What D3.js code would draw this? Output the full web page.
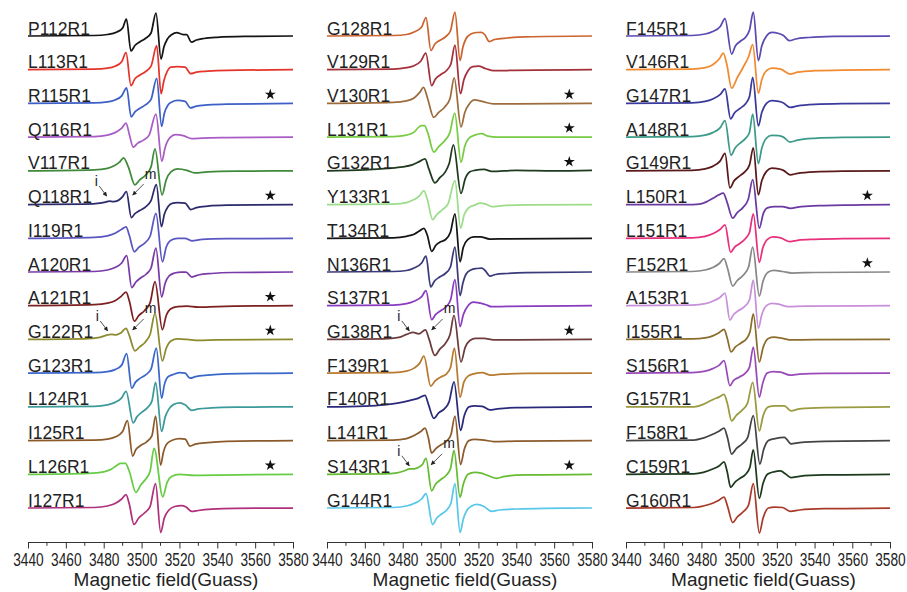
<!DOCTYPE html>
<html>
<head>
<meta charset="utf-8">
<script src="https://cdn.jsdelivr.net/npm/d3@7"></script>
<style>
  body { margin: 0; background: #fff; }
  svg { display: block; font-family: "Liberation Sans", Arial, sans-serif; }
</style>
</head>
<body>
<div id="chart-area"></div>
<script>
// EPR spectra, three stacked panels

var tickValues = [3440, 3460, 3480, 3500, 3520, 3540, 3560, 3580];
var minorTicks = [3450, 3470, 3490, 3510, 3530, 3550, 3570];
var axisTitle = 'Magnetic field(Guass)';

var labels1 = ['P112R1','L113R1','R115R1','Q116R1','V117R1','Q118R1','I119R1','A120R1',
  'A121R1','G122R1','G123R1','L124R1','I125R1','L126R1','I127R1'];
var labels2 = ['G128R1','V129R1','V130R1','L131R1','G132R1','Y133R1','T134R1','N136R1',
  'S137R1','G138R1','F139R1','F140R1','L141R1','S143R1','G144R1'];
var labels3 = ['F145R1','V146R1','G147R1','A148R1','G149R1','L150R1','L151R1','F152R1',
  'A153R1','I155R1','S156R1','G157R1','F158R1','C159R1','G160R1'];

// [field (G), signal] pairs
var spectra1 = [
  [[3440,0],[3475,0.5],[3482,1.5],[3487,4],[3490,8],[3492,17],[3494.4,-15],[3496.5,-9.5],[3499,-6],[3502,-2.5],[3505,3],[3507.6,23],[3510.3,-23],[3511.8,-11],[3513.5,-3.5],[3516,1.5],[3518.5,3.5],[3522,1.5],[3523.8,1.5],[3526.3,-6],[3529,-4],[3533,-2.5],[3540,-1.3],[3555,-0.4],[3580,0]],
  [[3440,0],[3475,0.5],[3482,1.5],[3486,3.5],[3489.5,8],[3491.8,17],[3494.4,-16],[3496.5,-9],[3499,-5.5],[3502,-2],[3505,3.5],[3508,24],[3510.3,-24],[3511.8,-11],[3513.5,-2],[3515.5,2.5],[3519,3],[3523,2.5],[3526,-4],[3529,-2.5],[3535,-1.5],[3545,-0.7],[3580,0]],
  [[3440,0],[3475,0.5],[3482,1.5],[3486,3.5],[3489.5,7.5],[3492.1,15.5],[3494.5,-13.5],[3496.5,-8.5],[3499,-5],[3502,-1.5],[3505,4],[3508,25],[3510.6,-23],[3512,-10],[3514,-1.5],[3516,1.5],[3519,3],[3523,2],[3525.8,-4.5],[3528.5,-3],[3535,-1.5],[3545,-0.6],[3580,0]],
  [[3440,0],[3475,0.5],[3482,2],[3486,4.5],[3489.5,9],[3491.8,14],[3493.5,3],[3495.6,-10],[3498,-6],[3501,-3],[3504,2],[3507.6,23],[3510.7,-24],[3512.5,-10],[3515,-0.5],[3518,2.5],[3522,1.5],[3526.5,-1.5],[3532,-1],[3545,-0.5],[3580,0]],
  [[3440,0],[3475,1],[3482,2.5],[3486,5.5],[3488.5,9],[3490.5,13],[3493,4],[3496.5,-14],[3499,-9],[3502,-4.5],[3505,4],[3507.1,22],[3510.8,-24],[3513,-9],[3515.5,-1],[3519,2],[3524,0.5],[3528,-2],[3535,-1],[3550,-0.3],[3580,0]],
  [[3440,0],[3470,0.5],[3478,1.5],[3481,2.5],[3483,3.5],[3485,3],[3487.5,4],[3490,8],[3492,13],[3494.6,-13],[3496.5,-9],[3499,-6],[3502,-2.5],[3505,4],[3507.8,20],[3510.5,-22],[3512,-10],[3514,-2],[3516.5,1.5],[3519,2],[3523,1.5],[3526,-5],[3529,-3],[3535,-1.5],[3545,-0.6],[3580,0]],
  [[3440,0],[3475,1],[3482,2.5],[3486,5],[3489.5,9],[3491.8,11.5],[3493.5,3],[3496.2,-13.5],[3498.5,-9],[3501.5,-5],[3504.5,2],[3507.6,25],[3511,-23.5],[3513,-9],[3515.5,-2],[3519,0],[3523,0],[3526.5,-2.5],[3532,-1],[3545,-0.4],[3580,0]],
  [[3440,0],[3475,0.5],[3482,2],[3486,4.5],[3489.5,9],[3492.1,16.5],[3494.8,-15.5],[3497,-10],[3499.5,-6],[3502.5,-2],[3505,4],[3507.6,24],[3510.6,-25],[3512.5,-11],[3514.5,-4],[3517.5,-1],[3521,0],[3523.5,0],[3526.5,-5],[3530,-3],[3537,-1.5],[3548,-0.5],[3580,0]],
  [[3440,0],[3475,1],[3482,2.5],[3486,5],[3489,9],[3491.8,13.5],[3493.5,5],[3496.2,-15.5],[3498.5,-10],[3501.5,-5],[3504.5,3],[3507.1,24],[3511,-24],[3513,-10],[3515.5,-3],[3519,-1],[3524,-0.5],[3530,-1.5],[3540,-0.8],[3580,0]],
  [[3440,0],[3470,0.5],[3478,2],[3482,4.5],[3484,5],[3486.5,4.5],[3489,6.5],[3491.8,11],[3493.5,4],[3496.5,-11.5],[3499,-7.5],[3502,-2.5],[3504.5,5],[3507.1,26],[3511,-21.5],[3513,-9],[3515.5,-1.5],[3519,0.5],[3524,0],[3530,-1],[3540,-0.5],[3580,0]],
  [[3440,0],[3475,0.5],[3482,1.5],[3486,3.5],[3489.5,8],[3492.1,19.5],[3494.8,-15],[3496.8,-9],[3499,-5.5],[3502,-2],[3505,4],[3507.8,25],[3510.6,-25],[3512,-12],[3513.8,-4],[3516.5,-1.5],[3520,0.5],[3523,0],[3525.6,-5],[3528.5,-3.5],[3535,-2],[3545,-0.8],[3580,0]],
  [[3440,0],[3475,0.5],[3482,2],[3486,4.5],[3489.5,9],[3491.8,15.5],[3495.6,-16],[3497.5,-10],[3500,-5.5],[3503,-1],[3505.5,6],[3507.4,24.5],[3510.6,-24.5],[3512.5,-10],[3514.5,-2],[3517,2.5],[3520.3,4],[3523,2],[3526.5,-3.5],[3530,-2],[3537,-1],[3550,-0.3],[3580,0]],
  [[3440,0],[3475,0.5],[3482,1.5],[3486,3.5],[3490,9],[3492.5,20],[3495.3,-15.5],[3497,-9],[3499.5,-5],[3502.5,-1.5],[3505.5,5],[3507.4,24.5],[3510.1,-24.5],[3511.5,-12],[3513.5,-3],[3516.5,0.5],[3520,2],[3523,1.5],[3525.6,-5.5],[3528.5,-3.5],[3535,-2],[3545,-0.8],[3580,0]],
  [[3440,0],[3472,1],[3480,2.5],[3484,5],[3487,9],[3489,11],[3491.5,11],[3493.5,3],[3497,-18],[3499.5,-11],[3502.5,-4],[3504.5,3],[3506.6,26],[3511.2,-22.5],[3513.5,-8],[3516,-2],[3520,0],[3528,-1],[3540,-0.8],[3580,0]],
  [[3440,0],[3475,0.5],[3482,2],[3486,4.5],[3489.5,9],[3491.8,13.5],[3493.5,4],[3496,-16.5],[3498.5,-10],[3501.5,-5],[3504.5,1.5],[3507.4,24.5],[3510.1,-24.5],[3512,-10],[3514.5,-2],[3517.5,1.5],[3521,2.3],[3523.5,1],[3526.5,-3.5],[3530,-2.5],[3537,-1.2],[3550,-0.3],[3580,0]]
];

var spectra2 = [
  [[3440,0],[3475,0.5],[3482,1.5],[3486,4],[3490,9],[3492.3,18.5],[3494.9,-14.5],[3497,-8],[3499.5,-4.5],[3502.5,-1],[3505.2,5],[3507.6,24],[3510.3,-24.5],[3511.8,-11],[3513.5,-2.5],[3516,2],[3519,3.5],[3521.7,3.7],[3523.5,1],[3525.7,-5.5],[3528.5,-3.5],[3535,-2],[3545,-0.8],[3580,0]],
  [[3440,0],[3475,0.5],[3482,2],[3486,4],[3489.5,8.5],[3492.2,16.5],[3495.3,-16],[3497.2,-9.5],[3500,-5],[3503,-1],[3505.5,6],[3507.6,24.5],[3510.5,-24],[3512.3,-10],[3514.5,-1],[3517,3],[3520,3.5],[3524,1],[3528,-1],[3535,-0.8],[3550,-0.3],[3580,0]],
  [[3440,0],[3475,1],[3482,2.5],[3486,5.5],[3489,11],[3491,16],[3493,6],[3496.4,-14],[3499,-9],[3502,-4],[3505,5],[3507.2,25.5],[3510.8,-23.5],[3512.8,-9],[3515,-1],[3518,3.5],[3522,2],[3528,-0.5],[3540,-0.5],[3580,0]],
  [[3440,0],[3475,0.5],[3482,2],[3486,5],[3488.5,10],[3490,11.5],[3491.5,11.5],[3493.3,4],[3496.4,-15],[3499,-9.5],[3502,-4],[3504.8,4],[3507.5,24],[3510.8,-25],[3512.8,-9],[3515,-1],[3518,2],[3521.7,3.5],[3525,1],[3530,0],[3580,0]],
  [[3440,0],[3460,1],[3472,2.5],[3480,4],[3485,6],[3489,9.5],[3491.8,12],[3493.8,2],[3497,-12],[3499.5,-7],[3502.5,-1],[3504.5,7],[3506.8,26],[3510.8,-22.5],[3513,-8],[3515.5,-1],[3518,0.5],[3523,1.5],[3527,-0.5],[3540,0.5],[3560,0],[3580,0.5]],
  [[3440,0],[3475,0.5],[3482,2],[3486,5],[3489,9],[3491.2,14],[3493,5],[3495.8,-15],[3498,-10],[3501,-5],[3504,1],[3507.6,24],[3510.6,-23.5],[3512.5,-10],[3515,-3],[3518,-0.5],[3521,1.5],[3524,0.5],[3527,-2],[3533,-1],[3545,-0.3],[3580,0]],
  [[3440,0],[3475,0.5],[3482,2],[3486,4],[3489,7.5],[3491.2,10],[3493,3],[3495.3,-13],[3497.5,-7],[3500,-3.5],[3502.5,-1.5],[3505.2,6],[3507.6,24.5],[3510.3,-23.5],[3512,-9],[3514.5,-1],[3517.5,1.5],[3521,1.5],[3526,-0.8],[3535,-0.5],[3580,0]],
  [[3440,0],[3475,0.5],[3482,1.5],[3486,4],[3490,9],[3492.3,16],[3494.8,-15],[3496.8,-9],[3499.5,-5],[3502.5,-1.5],[3505.2,5],[3507.6,25],[3510.3,-23.5],[3511.8,-11],[3513.5,-2],[3516,2],[3519,3.5],[3521.7,4],[3523.5,1.5],[3526.1,-4],[3529,-2.5],[3535,-1.5],[3545,-0.6],[3580,0]],
  [[3440,0],[3475,0.5],[3482,2],[3486,4.5],[3490,9],[3492.3,15],[3495.3,-14],[3497.3,-9],[3500,-5],[3503,-1],[3505.3,6],[3507.6,26],[3510.3,-21],[3512,-9],[3514.5,0],[3517.3,3.7],[3521,2.5],[3524,1],[3527,-1],[3535,-0.7],[3550,-0.3],[3580,0]],
  [[3440,0],[3470,0.5],[3478,2],[3482,5],[3485.5,7],[3488.5,5.5],[3492,9.5],[3493.8,1],[3497,-16],[3499.5,-10],[3502.5,-4],[3505,5],[3507.1,24],[3510.8,-22.5],[3513,-8],[3515.5,-1],[3518.5,1],[3523,1],[3528,-0.5],[3540,-0.5],[3580,0]],
  [[3440,0],[3475,0.5],[3482,2],[3486,5],[3489,10],[3491.2,17],[3494.8,-13],[3497,-8],[3500,-4],[3503,-1],[3505.3,6],[3507.3,25],[3510.3,-24],[3512.3,-9],[3514.5,-3],[3518,-0.5],[3522,0.5],[3526.5,-2],[3532,-1],[3545,-0.3],[3580,0]],
  [[3440,0],[3460,0.8],[3470,2],[3478,4],[3484,6.5],[3488,8.5],[3491.8,11.5],[3493.5,3],[3496.5,-11.5],[3499,-6],[3502,-2],[3504.5,5],[3507.1,25],[3510.6,-23.5],[3512.5,-9],[3515,0],[3518,1],[3522,0.5],[3526,-3],[3530,-2],[3540,-0.8],[3580,0]],
  [[3440,0],[3475,0.5],[3482,2],[3486,5],[3489.5,9],[3491.8,12.5],[3493.5,3],[3495.3,-12.5],[3497.5,-8],[3500.5,-4],[3503.5,0],[3505.5,6],[3507.6,24.5],[3510.6,-24],[3512.5,-9],[3515,0],[3518,1.2],[3523,0.5],[3528,-1],[3540,-0.5],[3580,0]],
  [[3440,0],[3470,0.5],[3477,1.5],[3481,3.5],[3483.5,5.5],[3486,5.5],[3488.5,7],[3490.5,10],[3492.3,16],[3495.3,-16.5],[3497.3,-10],[3500,-5.5],[3503,-1],[3505.3,6],[3507.1,24],[3510.3,-23],[3512,-10],[3514.5,0],[3518,2],[3522,1],[3526,-2],[3529.6,-4],[3534,-2],[3545,-0.7],[3580,0]],
  [[3440,0],[3475,0.5],[3482,2],[3486,4.5],[3490,9],[3492.3,14.5],[3495.8,-16.5],[3498,-10],[3500.5,-6],[3503.5,-1.5],[3505.5,5],[3507.6,24.5],[3510.3,-24.5],[3512,-11],[3514,-2],[3516.5,2],[3519,3.6],[3523,1.5],[3527,-3.5],[3531,-2],[3540,-1],[3555,-0.3],[3580,0]]
];

var spectra3 = [
  [[3440,0],[3475,0.5],[3482,2],[3486,4.5],[3490,9.5],[3492.5,17.5],[3496,-18],[3498,-10],[3500.5,-5.5],[3503.5,-1],[3505.5,6],[3507.5,24],[3510.2,-24.5],[3512,-10],[3514.5,0],[3517.3,3.7],[3521,2.5],[3523.5,0.5],[3526.6,-4.7],[3530,-3],[3537,-1.5],[3550,-0.4],[3580,0]],
  [[3440,0],[3475,0.5],[3482,2],[3486,5],[3489.5,11],[3491.6,16.5],[3493.5,5],[3496,-18.5],[3499,-8],[3502,2],[3505,13],[3507.2,25],[3510.2,-23.5],[3512,-10],[3514.5,-1],[3517.5,1.5],[3522,0.5],[3527,-4.3],[3531,-2.5],[3540,-1],[3555,-0.3],[3580,0]],
  [[3440,0],[3475,0.5],[3482,2],[3486,4.5],[3490,9],[3492.5,14.5],[3495.5,-15.5],[3497.5,-9.5],[3500.5,-5],[3503.5,0],[3505.5,7],[3507.2,26],[3510.2,-22.5],[3512,-9],[3514.5,0],[3517.3,2.7],[3521,2],[3523.5,0.5],[3527,-4],[3531,-2.5],[3540,-1],[3555,-0.3],[3580,0]],
  [[3440,0],[3475,0.5],[3482,2],[3486,4.5],[3490,9.5],[3492.5,16.5],[3495.7,-18],[3497.8,-11],[3500.5,-6],[3503.5,-1],[3505.5,5],[3507.2,23],[3510.2,-26.5],[3512,-11],[3514.5,-1],[3517.3,1.7],[3521,1.5],[3523.5,0],[3527,-5],[3531,-3],[3540,-1.2],[3555,-0.3],[3580,0]],
  [[3440,0],[3475,0.5],[3482,2],[3486,4.5],[3490,10],[3492.5,17.5],[3495.1,-17],[3497.3,-10],[3500,-5.5],[3503,-1],[3505.5,6],[3507.5,23],[3510.2,-24],[3512,-10],[3514.5,-0.5],[3517.3,2.7],[3521,2],[3523.5,0.5],[3527,-4],[3531,-2.5],[3540,-1],[3555,-0.3],[3580,0]],
  [[3440,0],[3472,0],[3479,0.5],[3483,3],[3486.3,6.5],[3489,9.5],[3491.6,11.5],[3493.5,3],[3496.6,-13.5],[3499,-8],[3502,-3],[3504.8,5],[3507.2,25],[3510.7,-23.5],[3512.8,-9],[3515,-3.3],[3519,-2],[3523,-2],[3527,-3.7],[3533,-2],[3545,-1],[3560,-0.5],[3580,0]],
  [[3440,0],[3475,0.5],[3482,2],[3486,4.5],[3490,9],[3492.5,13.5],[3495.5,-14],[3497.5,-9],[3500.5,-5],[3503.5,0],[3505.5,6],[3507.5,24.5],[3510.7,-24],[3512.5,-10],[3515,-1],[3518,1.5],[3522,0.5],[3527,-3.4],[3531,-2],[3540,-1],[3555,-0.3],[3580,0]],
  [[3440,0],[3475,0.5],[3482,2],[3486,4.5],[3489.5,8.5],[3492,13.5],[3493.8,4],[3496.6,-14],[3499,-8.5],[3502,-3.5],[3505,5],[3507.2,25],[3510.7,-24],[3512.7,-9],[3515.5,0],[3518.5,1.6],[3523,0.5],[3528,-1],[3540,-0.5],[3580,0]],
  [[3440,0],[3475,0.5],[3482,2],[3486,4.5],[3490,8.5],[3492.5,12.5],[3495.1,-14.5],[3497,-9],[3499.5,-5],[3502.5,-1.5],[3505.5,6],[3507.5,25.5],[3510.2,-22.5],[3512,-9],[3514.5,0],[3517.3,2.3],[3521,1.5],[3526,-1],[3535,-0.5],[3580,0]],
  [[3440,0],[3475,0.5],[3482,1.5],[3486,3.5],[3489.5,7],[3492,10],[3493.6,2],[3495.7,-12.5],[3498,-7.5],[3501,-3.5],[3504,1],[3505.8,8],[3507.5,25.5],[3510.7,-22.5],[3512.7,-8],[3515.5,1],[3518.5,2.3],[3523,1],[3528,-0.5],[3540,-0.3],[3580,0]],
  [[3440,0],[3475,0.5],[3482,2],[3486,4.5],[3489.5,8],[3492,12.5],[3495.1,-12.5],[3497,-7.5],[3500,-4],[3503,-0.5],[3505.5,6],[3507.5,26],[3510.7,-24],[3512.5,-10],[3514.8,0],[3518,1.5],[3522,1],[3527,-2],[3532,-1],[3545,-0.3],[3580,0]],
  [[3440,0],[3476,0],[3481,2.5],[3486.3,7.5],[3489.5,10],[3492,12.5],[3493.8,3],[3496,-14],[3498.5,-8.5],[3501.5,-3.5],[3504.5,4],[3507.2,24.5],[3510.7,-24],[3512.7,-9],[3515.5,0],[3519,1],[3524,1],[3527.5,-4],[3532,-2],[3545,-0.7],[3580,0]],
  [[3440,0],[3476,0.5],[3481,2.5],[3486.3,6.5],[3489.5,9.5],[3492,12.5],[3493.8,3],[3496,-13.5],[3498.5,-8],[3501.5,-3.5],[3504.5,3],[3507.5,25],[3511,-23.5],[3513,-9],[3515.5,0],[3519,2],[3524,3.3],[3527.5,-3.3],[3532,-2],[3545,-0.7],[3580,0]],
  [[3440,0],[3476,0.5],[3481,2],[3486.3,5.5],[3489.5,8.5],[3492,12.5],[3493.6,3],[3495.5,-13],[3497.7,-8],[3500.5,-4],[3503.5,0],[3505.7,7],[3507.5,24.5],[3510.7,-24],[3512.7,-9],[3515,0],[3518.5,2.5],[3522,3.3],[3524.5,0.5],[3527.5,-3.3],[3532,-2],[3545,-0.7],[3580,0]],
  [[3440,0],[3476,0.5],[3481,2],[3486.3,5],[3489.5,8],[3492,11],[3493.8,2],[3496.6,-14.5],[3499,-9],[3502,-4],[3505,3],[3507.5,24.5],[3510.7,-25],[3512.7,-10],[3515.5,0],[3519,1],[3523,0.5],[3527,-3.3],[3532,-2],[3545,-0.7],[3580,0]]
];

var colors1 = ['#141414','#e5342b','#3d5fc6','#a95cc6','#3f8a3a','#2b2a6c','#5a56c2','#7a3aa8',
  '#7c2020','#8c8a2e','#3b67c8','#3d9a9a','#8c5a2a','#66cc44','#b0307c'];
var colors2 = ['#cc6430','#a3303a','#9c6c3c','#77cc44','#1f3a1f','#9ddc8a','#141414','#3a3a7a',
  '#8a3cc0','#6c3c3c','#b87a30','#2a2a7c','#8c5c2c','#66bb33','#58c8e8'];
var colors3 = ['#5a4ab2','#f28a30','#3a3a9c','#3c9a88','#5a1a1a','#6a3aa2','#e8307c','#888888',
  '#c890d8','#8c6c2c','#9a4ab8','#9a9a40','#444444','#1c3a1c','#a83a2a'];

var starred = ['R115R1','Q118R1','A121R1','G122R1','L126R1','V130R1','L131R1','G132R1',
  'G138R1','S143R1','L150R1','F152R1'];
var starField = 3568;

// immobile (i) and mobile (m) component markers: trace, field of each arrow tip
var annotations = [
  { trace: 'Q118R1', i: 3481.6, m: 3495.3 },
  { trace: 'G122R1', i: 3482.1, m: 3495.3 },
  { trace: 'G138R1', i: 3483.5, m: 3495.3 },
  { trace: 'S143R1', i: 3483.5, m: 3495.0 }
];

var svg = d3.select('#chart-area').append('svg')
  .attr('width', 907)
  .attr('height', 592);

svg.append('defs').append('marker')
  .attr('id', 'arrow')
  .attr('viewBox', '0 0 10 10')
  .attr('refX', 9).attr('refY', 5)
  .attr('markerUnits', 'userSpaceOnUse')
  .attr('markerWidth', 5).attr('markerHeight', 4.5)
  .attr('orient', 'auto')
  .append('path')
  .attr('d', 'M0,0L10,5L0,10z')
  .attr('fill', '#222');

var panels = [
  { x0: 28,  x1: 293, labels: labels1, spectra: spectra1, colors: colors1 },
  { x0: 327, x1: 592, labels: labels2, spectra: spectra2, colors: colors2 },
  { x0: 626, x1: 890, labels: labels3, spectra: spectra3, colors: colors3 }
];

var axisY = 542;

panels.forEach(function(p) {
  var x = d3.scaleLinear().domain([3440, 3580]).range([p.x0, p.x1]);
  var y = d3.scalePoint().domain(p.labels).range([36, 508]);
  // signal -> vertical offset from the trace baseline
  var amp = d3.scaleLinear().domain([-10, 10]).range([10, -10]);

  var line = d3.line()
    .x(function(d) { return x(d[0]); })
    .y(function(d) { return amp(d[1]); })
    .curve(d3.curveMonotoneX);

  var g = svg.append('g');

  var rows = g.selectAll('g.row')
    .data(p.labels)
    .enter().append('g')
    .attr('class', 'row')
    .attr('transform', function(d) { return 'translate(0,' + y(d) + ')'; });

  rows.append('path')
    .attr('d', function(d, i) { return line(p.spectra[i]); })
    .attr('fill', 'none')
    .attr('stroke', function(d, i) { return p.colors[i]; })
    .attr('stroke-width', 1.75)
    .attr('stroke-linejoin', 'round');

  rows.append('text')
    .attr('x', x(3440))
    .attr('y', -1.5)
    .attr('font-size', '17.5px')
    .attr('fill', '#222')
    .text(function(d) { return d; });

  // stars
  rows.filter(function(d) { return starred.indexOf(d) >= 0; })
    .append('path')
    .attr('transform', 'translate(' + x(starField) + ',-9)')
    .attr('d', d3.symbol().type(d3.symbolStar).size(38))
    .attr('fill', '#111');

  // i / m arrows
  annotations.forEach(function(a) {
    if (p.labels.indexOf(a.trace) < 0) return;
    var base = y(a.trace);
    var ix = x(a.i), iy = base - 8.5;
    var mx = x(a.m), my = base - 9.5;
    g.append('line')
      .attr('x1', ix - 7.5).attr('y1', iy - 10)
      .attr('x2', ix).attr('y2', iy)
      .attr('stroke', '#222').attr('stroke-width', 0.8)
      .attr('marker-end', 'url(#arrow)');
    g.append('text')
      .attr('x', ix - 10.5).attr('y', iy - 10)
      .attr('font-size', '14px').attr('text-anchor', 'middle')
      .attr('fill', '#222')
      .text('i');
    g.append('line')
      .attr('x1', mx + 11).attr('y1', my - 11)
      .attr('x2', mx).attr('y2', my)
      .attr('stroke', '#222').attr('stroke-width', 0.8)
      .attr('marker-end', 'url(#arrow)');
    g.append('text')
      .attr('x', mx + 18).attr('y', my - 16.5)
      .attr('font-size', '14px').attr('text-anchor', 'middle')
      .attr('fill', '#222')
      .text('m');
  });

  // x axis
  var axisG = svg.append('g')
    .attr('transform', 'translate(0,' + axisY + ')');
  axisG.call(d3.axisBottom(x)
      .tickValues(tickValues)
      .tickFormat(d3.format('d'))
      .tickSize(6.5)
      .tickSizeOuter(0)
      .tickPadding(4));
  axisG.select('.domain').attr('stroke', '#333');
  axisG.selectAll('.tick line').attr('stroke', '#333');
  axisG.selectAll('.tick text')
    .attr('font-size', '18.5px')
    .attr('font-family', '"Liberation Sans", Arial, sans-serif')
    .attr('fill', '#222')
    .attr('textLength', 30.5)
    .attr('lengthAdjust', 'spacingAndGlyphs');

  axisG.selectAll('line.minor')
    .data(minorTicks)
    .enter().append('line')
    .attr('class', 'minor')
    .attr('x1', function(d) { return x(d); })
    .attr('x2', function(d) { return x(d); })
    .attr('y1', 0).attr('y2', 3.8)
    .attr('stroke', '#333');

  svg.append('text')
    .attr('x', (p.x0 + p.x1) / 2 + 5.5)
    .attr('y', 586)
    .attr('text-anchor', 'middle')
    .attr('font-size', '19px')
    .attr('fill', '#222')
    .text(axisTitle);
});
</script>
</body>
</html>
